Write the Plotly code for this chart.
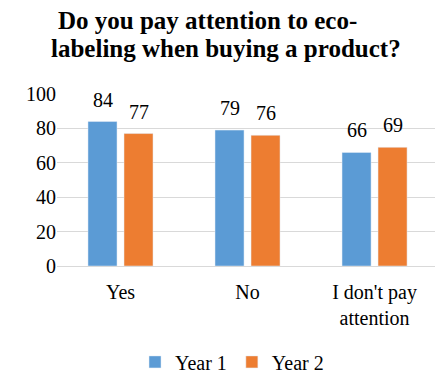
import plotly.graph_objects as go

# Survey answers and responses per year
categories = ["Yes", "No", "I don't pay<br>attention"]
year1 = [84, 79, 66]
year2 = [77, 76, 69]
y_ticks = [0, 20, 40, 60, 80, 100]

BLUE = "#5B9BD5"
ORANGE = "#ED7D31"
GRID = "#D9D9D9"
FONT = "Liberation Serif, Tinos, Times New Roman, Times, DejaVu Serif, serif"

BARGAP = 0.433
GROUPGAP = 0.194

fig = go.Figure()
fig.add_trace(go.Bar(name="Year 1", x=categories, y=year1, marker_color=BLUE))
fig.add_trace(go.Bar(name="Year 2", x=categories, y=year2, marker_color=ORANGE))

# value labels above each bar, placed at the centre of its slot in the group
slot = (1 - BARGAP) / 2
for i, (a, b) in enumerate(zip(year1, year2)):
    for off, v in ((-slot / 2, a), (slot / 2, b)):
        fig.add_annotation(
            x=i + off, y=v, xref="x", yref="y", text=str(v), showarrow=False,
            yanchor="bottom", yshift=9, font=dict(family=FONT, size=20),
        )

# two-line bold heading
fig.add_annotation(
    x=0.397, y=1.43, xref="paper", yref="paper", text="Do you pay attention to eco-",
    showarrow=False, xanchor="center", yanchor="middle",
    font=dict(family=FONT, size=25, weight="bold"),
)
fig.add_annotation(
    x=0.448, y=1.263, xref="paper", yref="paper", text="labeling when buying a product?",
    showarrow=False, xanchor="center", yanchor="middle",
    font=dict(family=FONT, size=25, weight="bold"),
)

fig.update_layout(
    width=435, height=377,
    margin=dict(l=57, r=0, t=94, b=111),
    font=dict(family=FONT, size=20, color="black"),
    paper_bgcolor="white", plot_bgcolor="white",
    barmode="group", bargap=BARGAP, bargroupgap=GROUPGAP,
    showlegend=True,
    legend=dict(
        orientation="h", x=0.463, xanchor="center",
        yref="container", y=0.04, yanchor="middle",
        font=dict(family=FONT, size=20),
    ),
    xaxis=dict(
        range=[-0.5, 2.476], showgrid=False, showline=False, automargin=False,
        ticklabelstandoff=12, tickfont=dict(family=FONT, size=20),
    ),
    yaxis=dict(
        range=[0, 100], tickvals=y_ticks, showgrid=True, gridcolor=GRID, gridwidth=1,
        zeroline=True, zerolinecolor=GRID, zerolinewidth=1, showline=False,
        automargin=False, tickfont=dict(family=FONT, size=20),
    ),
)

fig.write_html("out.html")
